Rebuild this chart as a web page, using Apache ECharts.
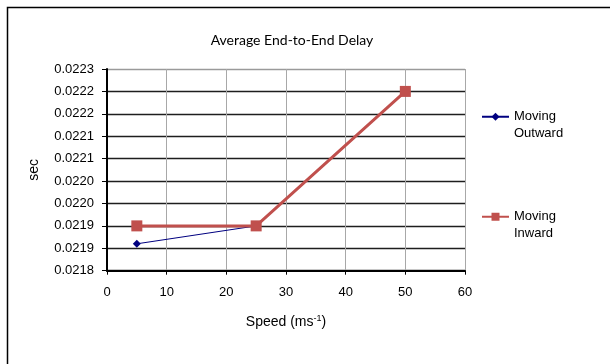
<!DOCTYPE html>
<html>
<head>
<meta charset="utf-8">
<script src="https://cdn.jsdelivr.net/npm/echarts@6/dist/echarts.min.js"></script>
<style>html,body{margin:0;padding:0;background:#fff}#c{width:610px;height:364px}</style>
</head>
<body>
<div id="c"></div>
<script>
const speeds = [5, 25, 50];
const movingOutward = [0.02186, 0.0219, 0.0222];
const movingInward = [0.0219, 0.0219, 0.0222];
const seriesNames = ['Moving Outward', 'Moving Inward'];
const yMin = 0.0218, yMax = 0.02225, yStep = 0.00005;
const yTickLabels = ['0.0218','0.0219','0.0219','0.0220','0.0220','0.0221','0.0221','0.0222','0.0222','0.0223'];
const xTicks = { min: 0, max: 60, step: 10 };

const chart = echarts.init(document.getElementById('c'));
const axisFont = { fontFamily: 'Liberation Sans, Arial, sans-serif', fontSize: 13, color: '#000' };
const hGridColors = yTickLabels.map((_, i) => i === yTickLabels.length - 1 ? '#9a9a9a' : '#1e1e1e');

chart.setOption({
  animation: false,
  backgroundColor: '#fff',
  title: {
    text: 'Average End-to-End Delay',
    left: 292, top: 33, textAlign: 'center', padding: 0,
    textStyle: { fontFamily: 'Lato, Carlito, sans-serif', fontSize: 14, fontWeight: 'normal', color: '#000' }
  },
  graphic: [{
    type: 'rect', shape: { x: 7.5, y: 7.5, width: 640, height: 400 },
    style: { fill: 'none', stroke: '#000', lineWidth: 1.5 }, silent: true
  }],
  grid: { left: 107, right: 145, top: 69, bottom: 93.3 },
  legend: {
    orient: 'vertical', left: 481, top: 92, padding: 0,
    itemWidth: 27, itemHeight: 10, itemGap: 50.5, itemTextGap: 3,
    data: seriesNames,
    formatter: n => '\n' + n.replace(' ', '\n'),
    textStyle: { fontFamily: 'Liberation Sans, Arial, sans-serif', fontSize: 13, lineHeight: 16.5, color: '#000' }
  },
  xAxis: {
    type: 'value', min: xTicks.min, max: xTicks.max, interval: xTicks.step,
    name: 'Speed (ms{sup|-1})', nameLocation: 'middle', nameGap: 43,
    nameTextStyle: {
      fontFamily: 'Liberation Sans, Arial, sans-serif', fontSize: 14, color: '#000',
      rich: { sup: { fontSize: 9, verticalAlign: 'top', padding: [0, 0, 7, 0], fontFamily: 'Liberation Sans, Arial, sans-serif', color: '#000' } }
    },
    axisLine: { show: true, onZero: false, lineStyle: { color: '#000', width: 2 } },
    axisTick: { show: true, inside: false, length: 4, lineStyle: { color: '#000', width: 1 } },
    axisLabel: Object.assign({ margin: 15 }, axisFont),
    splitLine: { show: true, lineStyle: { color: '#a8a8a8', width: 1 } }
  },
  yAxis: {
    type: 'value', min: yMin, max: yMax, interval: yStep,
    name: 'sec', nameLocation: 'middle', nameGap: 66,
    nameTextStyle: { fontFamily: 'Liberation Sans, Arial, sans-serif', fontSize: 14, color: '#000' },
    axisLine: { show: true, onZero: false, lineStyle: { color: '#000', width: 2 } },
    axisTick: { show: true, inside: false, length: 5, lineStyle: { color: '#000', width: 1 } },
    axisLabel: Object.assign({
      margin: 13,
      formatter: v => yTickLabels[Math.round((v - yMin) / yStep)] || ''
    }, axisFont),
    splitLine: { show: true, lineStyle: { color: hGridColors, width: 1.4 } }
  },
  series: [
    {
      name: seriesNames[0], type: 'line', z: 2,
      data: speeds.map((s, i) => [s, movingOutward[i]]),
      symbol: 'diamond', symbolSize: 8,
      lineStyle: { color: '#000080', width: 1 },
      itemStyle: { color: '#000080' }
    },
    {
      name: seriesNames[1], type: 'line', z: 3,
      data: speeds.map((s, i) => [s, movingInward[i]]),
      symbol: 'rect', symbolSize: 11,
      lineStyle: { color: '#c0504d', width: 3 },
      itemStyle: { color: '#c0504d' }
    }
  ]
});
</script>
</body>
</html>
